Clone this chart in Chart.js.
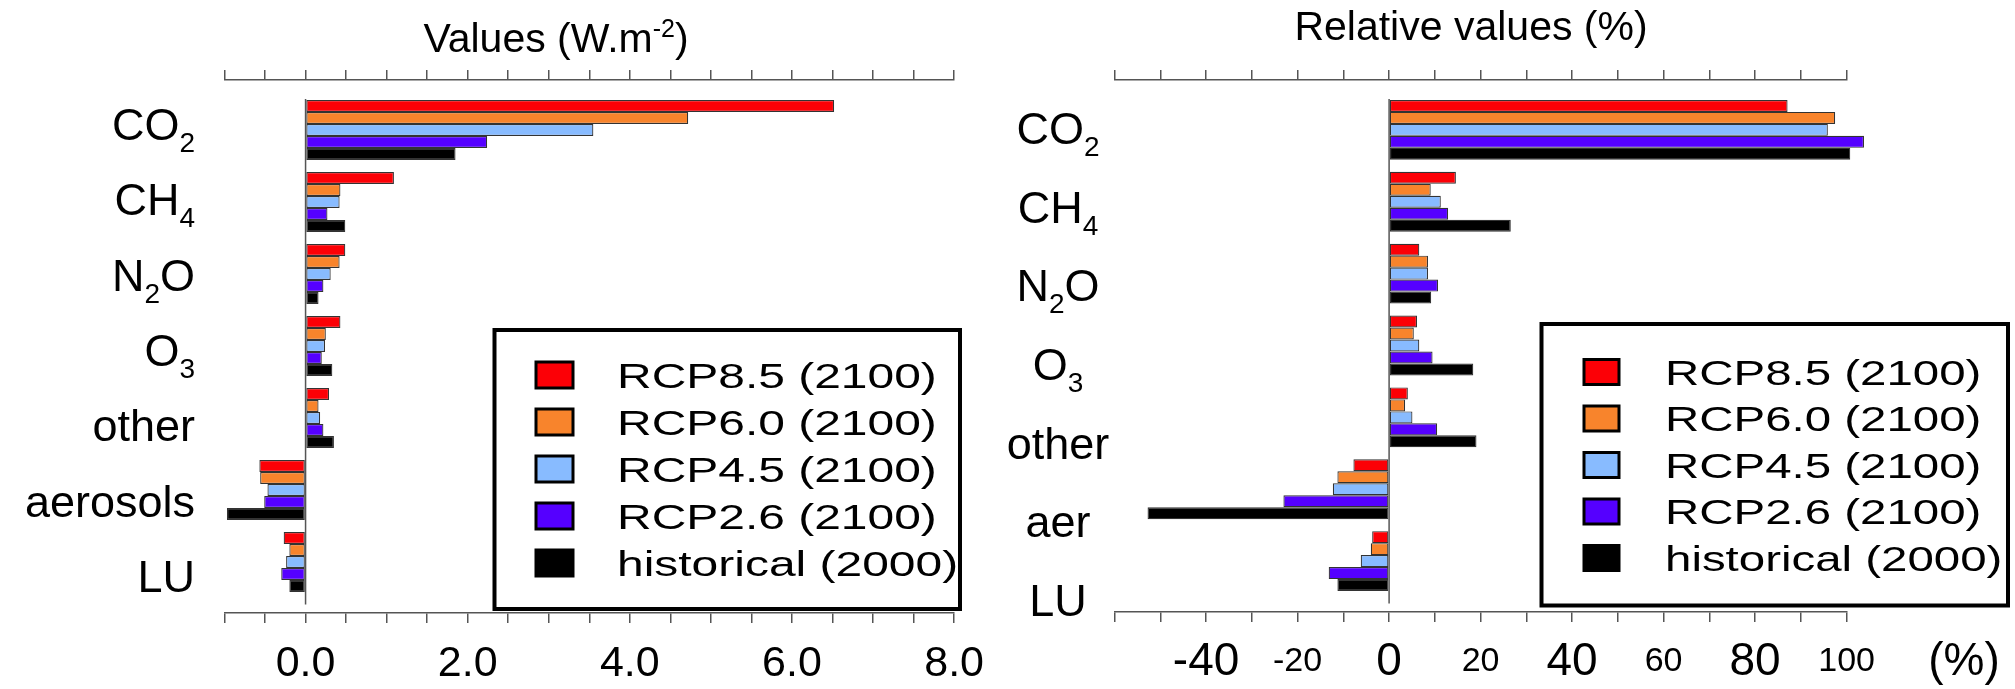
<!DOCTYPE html>
<html>
<head>
<meta charset="utf-8">
<title>Radiative forcing by agent</title>
<script src="https://cdn.jsdelivr.net/npm/chart.js@4.4.1/dist/chart.umd.min.js"></script>
<style>
  html, body { margin: 0; padding: 0; background: #fff; }
  body { width: 2015px; height: 689px; overflow: hidden; position: relative; }
  .panel { position: absolute; top: 0; }
  #absPanel { left: 0; }
  #relPanel { left: 1000px; }
  canvas { display: block; }
</style>
</head>
<body>
<div class="panel" id="absPanel"><canvas id="absChart" width="1000" height="760"></canvas></div>
<div class="panel" id="relPanel"><canvas id="relChart" width="1015" height="760"></canvas></div>
<script>
// Forcing agents (digits are set as subscripts when drawn)
const agents = ['CO2', 'CH4', 'N2O', 'O3', 'other', 'aerosols', 'LU'];
const agentsRel = ['CO2', 'CH4', 'N2O', 'O3', 'other', 'aer', 'LU'];

const scenarios = ['RCP8.5 (2100)', 'RCP6.0 (2100)', 'RCP4.5 (2100)', 'RCP2.6 (2100)', 'historical (2000)'];

// Forcing, W m-2
const absRcp85 = [6.52, 1.09, 0.49, 0.43, 0.29, -0.57, -0.27];
const absRcp60 = [4.72, 0.43, 0.42, 0.25, 0.16, -0.56, -0.20];
const absRcp45 = [3.55, 0.42, 0.31, 0.24, 0.18, -0.47, -0.24];
const absRcp26 = [2.24, 0.27, 0.22, 0.20, 0.22, -0.51, -0.30];
const absHist  = [1.85, 0.49, 0.16, 0.33, 0.35, -0.97, -0.20];

// Share of the total forcing, %
const relRcp85 = [87.1, 14.6, 6.6, 6.1, 4.1, -7.8, -3.7];
const relRcp60 = [97.5, 9.1, 8.5, 5.4, 3.5, -11.3, -4.0];
const relRcp45 = [95.9, 11.3, 8.5, 6.6, 5.1, -12.3, -6.2];
const relRcp26 = [103.8, 12.9, 10.7, 9.5, 10.5, -23.1, -13.2];
const relHist  = [100.8, 26.6, 9.2, 18.4, 19.1, -52.8, -11.3];

// Ticks that carry a label
const absTickLabels = ['0.0', '2.0', '4.0', '6.0', '8.0'];
const relTickLabels = ['-40', '-20', '0', '20', '40', '60', '80', '100'];

const SERIES_COLORS = ['#fc0006', '#f8842c', '#88bbff', '#5500ff', '#000000'];
const AXIS_COLOR = '#555555';
const FAMILY = "'Liberation Sans', Arial, sans-serif";

Chart.defaults.font.family = FAMILY;
Chart.defaults.color = '#000';

// Text with sub/superscript runs
function drawRich(ctx, parts, x, baseline, align) {
  let total = 0;
  for (const p of parts) {
    ctx.font = p.size + 'px ' + FAMILY;
    p.w = ctx.measureText(p.text).width;
    total += p.w;
  }
  let cx = align === 'right' ? x - total : align === 'center' ? x - total / 2 : x;
  ctx.textAlign = 'left';
  ctx.textBaseline = 'alphabetic';
  for (const p of parts) {
    ctx.font = p.size + 'px ' + FAMILY;
    ctx.fillText(p.text, cx, baseline + (p.dy || 0));
    cx += p.w;
  }
}

function chemParts(name, size) {
  return name.match(/\d+|\D+/g).map(s =>
    /\d/.test(s) ? { text: s, size: Math.round(size * 0.62), dy: 12 } : { text: s, size: size });
}

const panelDecor = {
  id: 'panelDecor',
  beforeDatasetsDraw(chart, args, o) {
    const { ctx } = chart;
    const xs = chart.scales.x, ys = chart.scales.y;
    const px = xs.getPixelForValue(0);
    ctx.save();
    ctx.strokeStyle = AXIS_COLOR;
    ctx.lineWidth = 1.5;
    ctx.beginPath();
    ctx.moveTo(px, ys.getPixelForValue(o.zeroFrom));
    ctx.lineTo(px, ys.getPixelForValue(o.zeroTo));
    ctx.stroke();
    ctx.restore();
  },
  afterDraw(chart, args, o) {
    const { ctx } = chart;
    const ys = chart.scales.y;
    ctx.save();
    ctx.fillStyle = '#000';

    // agent names beside each group
    o.labels.forEach((name, i) => {
      const base = ys.getPixelForValue(i) + o.labelBase + o.labelDrift * i;
      drawRich(ctx, chemParts(name, o.labelSize), o.labelX, base, o.labelAlign);
    });

    // panel title
    drawRich(ctx, o.title, o.titleX, o.titleBaseline, 'center');

    // unit after the bottom tick labels
    if (o.unit) {
      drawRich(ctx, [{ text: o.unit.text, size: o.unit.size }], o.unit.x, o.unit.baseline, 'center');
    }

    // legend box
    const L = o.legend;
    ctx.strokeStyle = '#000';
    ctx.lineWidth = 4;
    ctx.strokeRect(L.left, L.top, L.right - L.left, L.bottom - L.top);
    chart.data.datasets.forEach((ds, k) => {
      const cy = L.firstRow + L.pitch * k;
      ctx.fillStyle = ds.backgroundColor;
      ctx.fillRect(L.swX, cy - L.swH / 2, L.swW, L.swH);
      ctx.lineWidth = 3;
      ctx.strokeStyle = '#000';
      ctx.strokeRect(L.swX, cy - L.swH / 2, L.swW, L.swH);
      ctx.fillStyle = '#000';
      ctx.save();
      ctx.translate(L.textX, cy + L.textSize * 0.358);
      ctx.scale(L.stretch, 1);
      ctx.font = L.textSize + 'px ' + FAMILY;
      ctx.textAlign = 'left';
      ctx.textBaseline = 'alphabetic';
      ctx.fillText(ds.label, 0, 0);
      ctx.restore();
    });
    ctx.restore();
  }
};

function axisStyle() {
  return {
    grid: { drawOnChartArea: false, drawTicks: true, tickLength: 10, color: AXIS_COLOR, lineWidth: 1.5 },
    border: { display: true, color: AXIS_COLOR, width: 1.5 }
  };
}

function buildChart(canvasId, cfg) {
  return new Chart(document.getElementById(canvasId), {
    type: 'bar',
    data: {
      datasets: cfg.series.map((vals, k) => ({
        label: scenarios[k],
        data: vals.map((v, i) => ({ x: v, y: i })),
        backgroundColor: SERIES_COLORS[k],
        borderColor: '#333',
        borderWidth: 1.2,
        borderSkipped: false,
        categoryPercentage: 60 / 72,
        barPercentage: 1,
        clip: false
      }))
    },
    options: {
      indexAxis: 'y',
      responsive: false,
      animation: false,
      events: [],
      layout: { padding: cfg.padding },
      scales: {
        y: {
          type: 'linear', reverse: true, offset: false, min: -0.694, max: 6.708, display: false,
          afterBuildTicks: s => { s.ticks = cfg.labels.map((_, i) => ({ value: i })); }
        },
        x: Object.assign({
          type: 'linear', position: 'bottom', min: cfg.min, max: cfg.max,
          ticks: {
            stepSize: cfg.step, maxTicksLimit: 40, autoSkip: false, maxRotation: 0,
            padding: cfg.tickPad, color: '#000',
            font: cfg.tickFont,
            callback: cfg.tickText
          }
        }, axisStyle()),
        xTop: Object.assign({
          type: 'linear', axis: 'x', position: 'top', min: cfg.min, max: cfg.max,
          ticks: { display: false, stepSize: cfg.step, maxTicksLimit: 40, autoSkip: false }
        }, axisStyle())
      },
      plugins: {
        legend: { display: false },
        tooltip: { enabled: false },
        panelDecor: cfg.decor
      }
    },
    plugins: [panelDecor]
  });
}

// Left panel: forcing in W m-2
buildChart('absChart', {
  series: [absRcp85, absRcp60, absRcp45, absRcp26, absHist],
  labels: agents,
  min: -1, max: 8, step: 0.5,
  padding: { top: 70, left: 224.5, right: 44, bottom: 55 },
  tickPad: 16,
  tickFont: { size: 43, lineHeight: '50px' },
  tickText: v => { const s = Number(v).toFixed(1); return absTickLabels.includes(s) ? s : ''; },
  decor: {
    zeroFrom: -0.43, zeroTo: 6.59,
    labels: agents, labelSize: 45, labelX: 195, labelAlign: 'right', labelBase: 10, labelDrift: 3.3,
    title: [{ text: 'Values (W.m', size: 41 }, { text: '-2', size: 25, dy: -15 }, { text: ')', size: 41 }],
    titleX: 556, titleBaseline: 52,
    legend: { left: 494.5, top: 330, right: 960, bottom: 609,
              swX: 536, swW: 37, swH: 26, firstRow: 375, pitch: 47,
              textX: 617, textSize: 35, stretch: 1.37 }
  }
});

// Right panel: share of the total, %
buildChart('relChart', {
  series: [relRcp85, relRcp60, relRcp45, relRcp26, relHist],
  labels: agentsRel,
  min: -60, max: 100, step: 10,
  padding: { top: 70, left: 114.6, right: 168.4, bottom: 58 },
  tickPad: 15,
  tickFont: c => ({ size: (c.tick && Math.round(c.tick.value) % 40 === 0) ? 46 : 34, lineHeight: '50px' }),
  tickText: v => { const s = String(Math.round(v)); return relTickLabels.includes(s) ? s : ''; },
  decor: {
    zeroFrom: -0.43, zeroTo: 6.59,
    labels: agentsRel, labelSize: 45, labelX: 58, labelAlign: 'center', labelBase: 14, labelDrift: 6.8,
    title: [{ text: 'Relative values (%)', size: 41 }],
    titleX: 471, titleBaseline: 40,
    unit: { text: '(%)', size: 46, x: 964, baseline: 675 },
    legend: { left: 541.5, top: 324, right: 1008, bottom: 605.5,
              swX: 584, swW: 35, swH: 25, firstRow: 372, pitch: 46.5,
              textX: 665, textSize: 35, stretch: 1.355 }
  }
});
</script>
</body>
</html>
